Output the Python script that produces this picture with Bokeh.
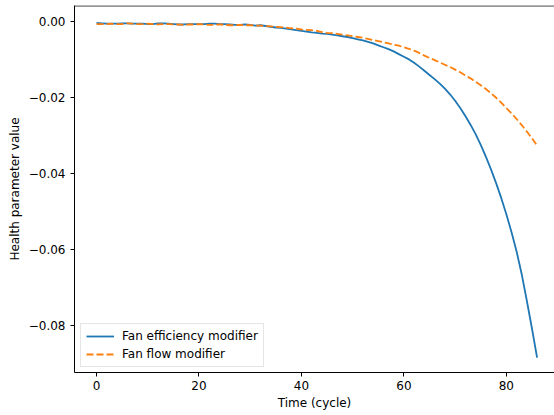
from bokeh.plotting import figure
from bokeh.models import FixedTicker, CustomJSTickFormatter, Range1d, Legend, LegendItem, Span
from bokeh.embed import file_html
from bokeh.resources import INLINE

cycles = list(range(87))

fan_efficiency = [
    -0.0003, -0.0004, -0.0005, -0.0005, -0.0005, -0.0004, -0.0004, -0.0005, -0.0005, -0.0005,
    -0.0006, -0.0006, -0.0004, -0.0004, -0.0005, -0.0006, -0.0007, -0.0007, -0.0006, -0.0006,
    -0.0006, -0.0006, -0.0005, -0.0005, -0.0006, -0.0006, -0.0007, -0.0008, -0.0008, -0.0007,
    -0.0008, -0.0010, -0.0009, -0.0011, -0.0013, -0.0015, -0.0016, -0.0018, -0.0020, -0.0022,
    -0.0024, -0.0026, -0.0028, -0.0029, -0.0031, -0.0032, -0.0034, -0.0036, -0.0038, -0.0040,
    -0.0043, -0.0046, -0.0049, -0.0053, -0.0057, -0.0062, -0.0067, -0.0072, -0.0078, -0.0085,
    -0.0092, -0.0099, -0.0108, -0.0118, -0.0129, -0.0140, -0.0151, -0.0163, -0.0176, -0.0191,
    -0.0208, -0.0227, -0.0248, -0.0271, -0.0296, -0.0324, -0.0355, -0.0389, -0.0425, -0.0464,
    -0.0507, -0.0554, -0.0605, -0.0665, -0.0735, -0.0808, -0.0885,
]

fan_flow = [
    -0.0006, -0.0006, -0.0006, -0.0005, -0.0006, -0.0006, -0.0004, -0.0005, -0.0006, -0.0006,
    -0.0005, -0.0006, -0.0007, -0.0006, -0.0006, -0.0007, -0.0007, -0.0008, -0.0007, -0.0007,
    -0.0006, -0.0007, -0.0008, -0.0008, -0.0007, -0.0008, -0.0009, -0.0009, -0.0008, -0.0009,
    -0.0009, -0.0010, -0.0010, -0.0011, -0.0012, -0.0013, -0.0014, -0.0015, -0.0017, -0.0018,
    -0.0020, -0.0021, -0.0022, -0.0024, -0.0027, -0.0029, -0.0030, -0.0032, -0.0034, -0.0036,
    -0.0038, -0.0040, -0.0042, -0.0045, -0.0048, -0.0051, -0.0054, -0.0057, -0.0060, -0.0063,
    -0.0067, -0.0071, -0.0076, -0.0082, -0.0089, -0.0095, -0.0101, -0.0107, -0.0113, -0.0119,
    -0.0126, -0.0133, -0.0141, -0.0149, -0.0158, -0.0167, -0.0177, -0.0188, -0.0200, -0.0213,
    -0.0227, -0.0241, -0.0256, -0.0272, -0.0289, -0.0307, -0.0326,
]

x_ticks = [0, 20, 40, 60, 80]
y_ticks = [0.0, -0.02, -0.04, -0.06, -0.08]

FONT = "DejaVu Sans"
X0, X1 = -4.3, 89.4
Y0, Y1 = -0.0924, 0.0043

p = figure(
    width=554, height=415,
    output_backend="svg", toolbar_location=None,
    x_range=Range1d(X0, X1), y_range=Range1d(Y0, Y1),
    min_border_left=74, min_border_right=0, min_border_top=5, min_border_bottom=43,
)
p.background_fill_color = "white"
p.border_fill_color = "white"
p.outline_line_color = None
p.xgrid.visible = False
p.ygrid.visible = False

r1 = p.line(cycles, fan_efficiency, line_color="#1f77b4", line_width=1.8, line_join="round")
r2 = p.line(cycles, fan_flow, line_color="#ff7f0e", line_width=1.8, line_dash="7 3")

for ax in (p.xaxis[0], p.yaxis[0]):
    ax.axis_line_color = "black"
    ax.axis_line_width = 1
    ax.major_tick_line_color = "black"
    ax.major_tick_line_width = 1
    ax.major_tick_out = 4
    ax.major_tick_in = 0
    ax.minor_tick_line_color = None
    ax.major_label_text_font = FONT
    ax.major_label_text_font_size = "12px"
    ax.major_label_text_color = "black"
    ax.axis_label_text_font = FONT
    ax.axis_label_text_font_size = "12px"
    ax.axis_label_text_font_style = "normal"
    ax.axis_label_text_color = "black"

p.xaxis[0].ticker = FixedTicker(ticks=x_ticks)
p.yaxis[0].ticker = FixedTicker(ticks=y_ticks)
p.xaxis[0].axis_label = "Time (cycle)"
p.yaxis[0].axis_label = "Health parameter value"
p.xaxis[0].major_label_standoff = 4
p.xaxis[0].axis_label_standoff = 3
p.yaxis[0].major_label_standoff = 5
p.yaxis[0].axis_label_standoff = 4
p.yaxis[0].formatter = CustomJSTickFormatter(
    code='var s = Math.abs(tick).toFixed(2); return (tick < -1e-12 ? "\\u2212" : "") + s;'
)

# top spine, drawn just inside the frame edge so that it is not clipped
p.add_layout(Span(location=Y1 - 0.00012, dimension="width", line_color="#333333", line_width=1.2))

legend = Legend(items=[
    LegendItem(label="Fan efficiency modifier", renderers=[r1]),
    LegendItem(label="Fan flow modifier", renderers=[r2]),
], location=(6, 5))
legend.label_text_font = FONT
legend.label_text_font_size = "12px"
legend.label_text_color = "black"
legend.glyph_width = 28
legend.glyph_height = 14
legend.label_height = 14
legend.label_standoff = 8
legend.spacing = 4
legend.padding = 5
legend.margin = 0
legend.border_line_color = "#cccccc"
legend.border_line_width = 1
legend.background_fill_color = "white"
legend.background_fill_alpha = 0.8
p.add_layout(legend, "center")

open("out.html", "w").write(file_html(p, INLINE))
